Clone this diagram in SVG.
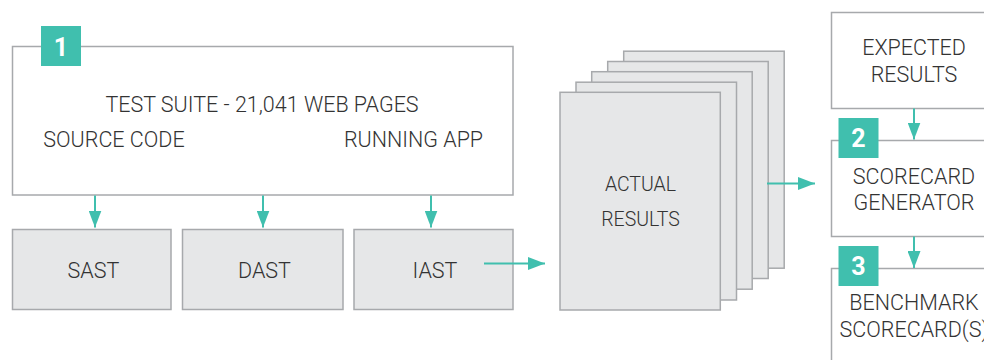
<svg xmlns="http://www.w3.org/2000/svg" width="984" height="360" viewBox="0 0 984 360">
<style>
.box{fill:#ffffff;stroke:#A7A9AC;stroke-width:1.5}
.gbox{fill:#E6E7E8;stroke:#A7A9AC;stroke-width:1.5}
.badge{fill:#40BFAE}
.num{font-family:Roboto,"Liberation Sans",sans-serif;font-weight:700;font-size:25px;fill:#ffffff;text-anchor:middle}
.t{font-family:Roboto,"Liberation Sans",sans-serif;font-weight:300;font-size:21.5px;fill:#333333;text-anchor:middle}
.s{font-size:19.5px}
.c{stroke:#40BFAE;stroke-width:2;fill:none;marker-end:url(#ah)}
</style>
<defs>
<marker id="ah" markerUnits="userSpaceOnUse" markerWidth="17" markerHeight="13" refX="17" refY="6.5" orient="auto">
<path d="M0,0 L17,6.5 L0,13 Z" fill="#40BFAE"/>
</marker>
</defs>
<g id="test-suite">
<rect class="box" x="12.5" y="46.5" width="500.5" height="148.5"/>
<rect class="badge" x="41" y="26" width="40" height="40"/>
<text class="num" x="61" y="55.5">1</text>
<text class="t" x="262" y="111.5">TEST SUITE - 21,041 WEB PAGES</text>
<text class="t" x="114" y="146.5">SOURCE CODE</text>
<text class="t" x="413.5" y="146.5">RUNNING APP</text>
</g>
<g id="sast">
<rect class="gbox" x="12.5" y="229.5" width="158.5" height="80"/>
<text class="t" x="93.5" y="277.5">SAST</text>
</g>
<g id="dast">
<rect class="gbox" x="182.5" y="229.5" width="160.5" height="80"/>
<text class="t" x="264.5" y="277.5">DAST</text>
</g>
<g id="iast">
<rect class="gbox" x="354" y="229.5" width="159" height="80"/>
<text class="t" x="435" y="277.5">IAST</text>
</g>
<g id="actual-results">
<rect class="gbox" x="623.7" y="51.2" width="160.5" height="217"/>
<rect class="gbox" x="607.7" y="61.5" width="160.5" height="217"/>
<rect class="gbox" x="591.7" y="71.7" width="160.5" height="217.5"/>
<rect class="gbox" x="576" y="82.2" width="160.5" height="217.8"/>
<rect class="gbox" x="560" y="92.3" width="160.3" height="217.7"/>
<text class="t s" x="640.5" y="190.5">ACTUAL</text>
<text class="t s" x="640.5" y="225.5">RESULTS</text>
</g>
<g id="expected-results">
<rect class="box" x="831.5" y="12.5" width="170" height="96"/>
<text class="t" x="914" y="55">EXPECTED</text>
<text class="t" x="914" y="81.5">RESULTS</text>
</g>
<g id="scorecard-generator">
<rect class="box" x="831.5" y="140.5" width="170" height="96"/>
<rect class="badge" x="838.5" y="118" width="40" height="40"/>
<text class="num" x="858.5" y="147">2</text>
<text class="t" x="914" y="184">SCORECARD</text>
<text class="t" x="914" y="209.5">GENERATOR</text>
</g>
<g id="benchmark-scorecards">
<rect class="box" x="831.5" y="268.5" width="170" height="110"/>
<rect class="badge" x="838.5" y="246" width="40" height="40"/>
<text class="num" x="858.5" y="275">3</text>
<text class="t" x="914" y="310">BENCHMARK</text>
<text class="t" x="914" y="336.5">SCORECARD(S)</text>
</g>
<g id="connectors">
<line class="c" x1="95" y1="195.5" x2="95" y2="227.5"/>
<line class="c" x1="263" y1="195.5" x2="263" y2="227.5"/>
<line class="c" x1="431" y1="195.5" x2="431" y2="227.5"/>
<line class="c" x1="484" y1="263.5" x2="545" y2="263.5"/>
<line class="c" x1="767" y1="183.5" x2="815" y2="183.5"/>
<line class="c" x1="914" y1="108.5" x2="914" y2="139.5"/>
<line class="c" x1="914" y1="236.5" x2="914" y2="268"/>
</g>
</svg>
